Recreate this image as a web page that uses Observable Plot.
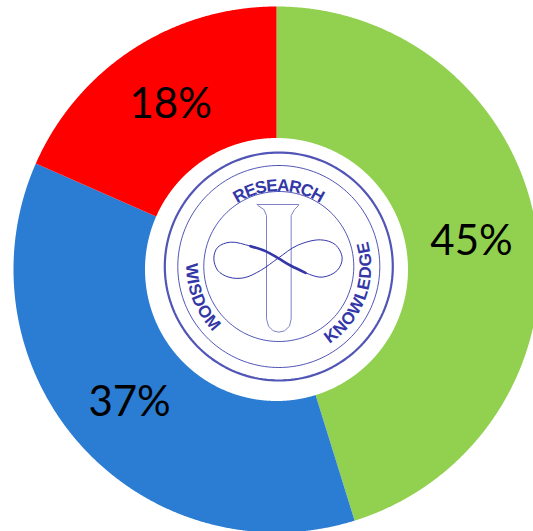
<!DOCTYPE html>
<html>
<head>
<meta charset="utf-8">
<style>html,body{margin:0;padding:0;background:#fff;overflow:hidden}svg{display:block}</style>
<script src="https://cdn.jsdelivr.net/npm/d3@7"></script>
<script src="https://cdn.jsdelivr.net/npm/@observablehq/plot@0.6"></script>
</head>
<body>
<script>
const categories = ["A", "B", "C"];
const shares = [45.2, 36.4, 18.4];
const labels = ["45%", "37%", "18%"];
const colors = ["#92d050", "#2b7cd3", "#ff0000"];
const labelAngles = [81.8, 227.9, 327.3];
const labelRadii = [197, 198, 196];

const outerR = 263, innerR = 131.5;
const rad = a => a * Math.PI / 180;
const polar = (a, r, cx = 0, cy = 0) => ({x: cx + r * Math.sin(rad(a)), y: cy + r * Math.cos(rad(a))});

// Wedges
let cum = 0;
const wedgePts = [];
categories.forEach((c, i) => {
  const a0 = cum / 100 * 360;
  cum += shares[i];
  const a1 = cum / 100 * 360;
  const pts = [];
  for (let a = a0; a < a1; a += 0.25) pts.push(polar(a, outerR));
  pts.push(polar(a1, outerR));
  for (let a = a1; a > a0; a -= 0.25) pts.push(polar(a, innerR));
  pts.push(polar(a0, innerR));
  pts.forEach(p => wedgePts.push({...p, c}));
});
const labelData = categories.map((c, i) => ({...polar(labelAngles[i], labelRadii[i]), t: labels[i]}));

// Emblem
const ecx = 2.3, ecy = 3;
const ink = "#3337a8";
const ringRadii = [114, 101, 75];
const ringWidths = [2.2, 1, 1];
const ringPts = ringRadii.map(r => d3.range(0, 361, 2).map(a => polar(a, r, ecx, ecy)));

const tube = [[350,207],[475,207],[473,211],[462,222],[452,240],[452,550],[447,572],[432,586],[415,590],[398,586],[384,572],[378,550],[378,240],[370,222],[354,211],[350,207]];
const loop = [[413,368],[375,347],[330,332],[270,320],[232,335],[220,368],[232,405],[265,425],[310,427],[360,405],[413,368],[470,330],[540,313],[585,328],[605,368],[590,405],[545,425],[495,412],[450,390],[413,368]];
const knot = [[330,332],[375,347],[413,368],[450,390],[495,412]];
const fromZoom = ([x, y]) => ({x: x / 3 + 140 - 276, y: 269 - (y / 3 + 135)});

const mc = document.createElement("canvas").getContext("2d");
function arcLetters(str, a0, a1, r, dir) {
  mc.font = "bold 17px 'Liberation Sans'";
  const w = [...str].map(ch => mc.measureText(ch).width);
  const total = d3.sum(w);
  let s = 0;
  return [...str].map((ch, i) => {
    const f = (s + w[i] / 2) / total;
    s += w[i];
    const a = a0 + (a1 - a0) * f;
    return {...polar(a, r, ecx, ecy), ch, rot: dir > 0 ? a : a + 180};
  });
}
const emblemText = [
  ...arcLetters("RESEARCH", -33, 33, 81, 1),
  ...arcLetters("KNOWLEDGE", 147, 74, 87, -1),
  ...arcLetters("WISDOM", 272, 225, 87, -1)
];

const chart = Plot.plot({
  width: 533, height: 531,
  margin: 0,
  x: {domain: [-276, 257], axis: null},
  y: {domain: [-262, 269], axis: null},
  color: {domain: categories, range: colors},
  marks: [
    Plot.line(wedgePts, {x: "x", y: "y", z: "c", fill: "c", stroke: null}),
    ...ringPts.map((pts, i) => Plot.line(pts, {x: "x", y: "y", stroke: ink, strokeWidth: ringWidths[i], strokeOpacity: 0.85})),
    Plot.line(tube.map(fromZoom), {x: "x", y: "y", stroke: "#7f82c6", strokeWidth: 1, curve: "linear"}),
    Plot.line(loop.map(fromZoom), {x: "x", y: "y", stroke: ink, strokeWidth: 1, curve: "catmull-rom"}),
    Plot.line(knot.map(fromZoom), {x: "x", y: "y", stroke: ink, strokeWidth: 2.6, curve: "catmull-rom"}),
    Plot.text(emblemText, {x: "x", y: "y", text: "ch", rotate: "rot", fill: ink, fontSize: 17, fontWeight: "bold", fontFamily: "Liberation Sans"}),
    Plot.text(labelData, {x: "x", y: "y", text: "t", fill: "#000", fontSize: 42, fontFamily: "Lato"})
  ]
});
document.body.appendChild(chart);
</script>
</body>
</html>
